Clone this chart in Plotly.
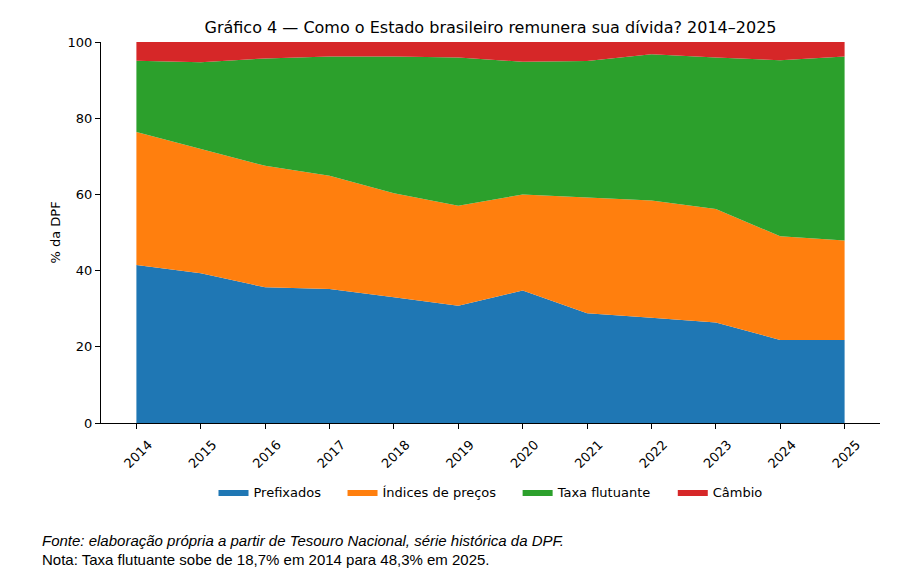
import plotly.graph_objects as go

anos = [2014, 2015, 2016, 2017, 2018, 2019, 2020, 2021, 2022, 2023, 2024, 2025]
prefixados = [41.5, 39.3, 35.6, 35.2, 33.0, 30.8, 34.8, 28.8, 27.6, 26.4, 21.8, 21.8]
indices_precos = [34.9, 32.6, 31.9, 29.7, 27.3, 26.2, 25.2, 30.4, 30.8, 29.8, 27.2, 26.1]
taxa_flutuante = [18.7, 22.8, 28.2, 31.3, 35.9, 38.9, 34.8, 35.8, 38.4, 39.7, 46.2, 48.3]
cambio = [4.9, 5.3, 4.3, 3.8, 3.8, 4.1, 5.2, 5.0, 3.2, 4.1, 4.8, 3.8]

nomes = ["Prefixados", "Índices de preços", "Taxa flutuante", "Câmbio"]
valores = [prefixados, indices_precos, taxa_flutuante, cambio]
cores = ["#1f77b4", "#ff7f0e", "#2ca02c", "#d62728"]

fig = go.Figure()
for i, (nome, vals, cor) in enumerate(zip(nomes, valores, cores)):
    rotulo = nome + ("\u00a0" * 4 if i < len(nomes) - 1 else "")
    fig.add_trace(go.Scatter(
        x=anos, y=vals, name=rotulo, mode="lines",
        stackgroup="one", line=dict(width=0, color=cor),
        fillcolor=cor, hoverinfo="x+y+name",
    ))

font = "DejaVu Sans"
W, H = 911, 569
fig.update_layout(
    width=W, height=H,
    margin=dict(l=93, r=W - 872, t=34, b=H - 415),
    paper_bgcolor="white", plot_bgcolor="white",
    font=dict(family=font, size=13, color="black"),
    title=dict(text="Gráfico 4 — Como o Estado brasileiro remunera sua dívida? 2014–2025",
               x=0.5, xref="paper", xanchor="center",
               y=1 - 19 / H, yref="container", yanchor="middle",
               font=dict(family=font, size=16, color="black")),
    showlegend=True,
    legend=dict(orientation="h", x=0.5, xanchor="center", y=-0.181, yanchor="middle",
                font=dict(family=font, size=13), itemwidth=30,
                traceorder="normal"),
    xaxis=dict(range=[2013.45, 2025.55], tickmode="array", tickvals=anos,
               ticktext=[str(a) for a in anos], tickangle=-45,
               ticklabelshift=12, ticklabelstandoff=3,
               showline=True, linecolor="black", linewidth=1,
               ticks="outside", ticklen=5, tickcolor="black",
               showgrid=False, zeroline=False),
    yaxis=dict(range=[0, 100], tickvals=[0, 20, 40, 60, 80, 100],
               showline=True, linecolor="black", linewidth=1,
               ticks="outside", ticklen=5, tickcolor="black",
               showgrid=False, zeroline=False),
    annotations=[
        dict(text="% da DPF", textangle=-90, xref="paper", yref="paper",
             x=(55 - 101) / 779, y=0.5, xanchor="center", yanchor="middle",
             showarrow=False, font=dict(family=font, size=13)),
        dict(text="<i>Fonte: elaboração própria a partir de Tesouro Nacional, série histórica da DPF.</i>",
             xref="paper", yref="paper", x=(40 - 101) / 779, y=(423 - 540) / 381,
             xanchor="left", yanchor="middle", showarrow=False,
             font=dict(family="Liberation Sans", size=15)),
        dict(text="Nota: Taxa flutuante sobe de 18,7% em 2014 para 48,3% em 2025.",
             xref="paper", yref="paper", x=(40 - 101) / 779, y=(423 - 559) / 381,
             xanchor="left", yanchor="middle", showarrow=False,
             font=dict(family="Liberation Sans", size=15)),
    ],
)

fig.write_html("out.html")
